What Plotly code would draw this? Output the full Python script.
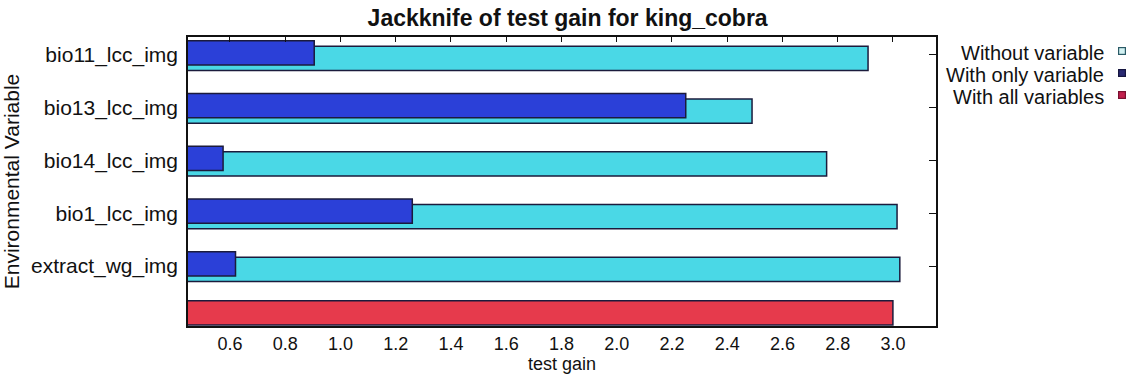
import plotly.graph_objects as go

# ---- data ----
categories = ["bio11_lcc_img", "bio13_lcc_img", "bio14_lcc_img", "bio1_lcc_img", "extract_wg_img"]
without_variable = [2.91, 2.49, 2.76, 3.015, 3.025]
with_only_variable = [0.905, 2.25, 0.575, 1.26, 0.62]
with_all_variables = [3.00]
x_ticks = [0.6, 0.8, 1.0, 1.2, 1.4, 1.6, 1.8, 2.0, 2.2, 2.4, 2.6, 2.8, 3.0]
legend_labels = ["Without variable", "With only variable", "With all variables"]

# ---- layout constants ----
W, H = 1130, 380
L, R, T, B = 188, 936, 37, 326
FONT = "Liberation Sans, Arial, Helvetica, sans-serif"

CYAN = "#4ad8e6"
BLUE = "#2b40d8"
RED = "#e63a4c"
EDGE = "#1b1b3c"

ypos = list(range(len(categories), 0, -1))  # 5..1 top to bottom, 0 = all variables
XR = [0.448, 3.156]
YR = [-0.137, 5.34]
BW = 0.46

fig = go.Figure()
fig.add_trace(go.Bar(
    x=without_variable, y=ypos, orientation="h", name=legend_labels[0],
    width=BW, offset=-0.065 - BW / 2,
    marker=dict(color=CYAN, line=dict(color=EDGE, width=1.5)),
))
fig.add_trace(go.Bar(
    x=with_only_variable, y=ypos, orientation="h", name=legend_labels[1],
    width=BW, offset=0.04 - BW / 2,
    marker=dict(color=BLUE, line=dict(color=EDGE, width=1.5)),
))
fig.add_trace(go.Bar(
    x=with_all_variables, y=[0], orientation="h", name=legend_labels[2],
    width=BW, offset=0.11 - BW / 2,
    marker=dict(color=RED, line=dict(color=EDGE, width=1.5)),
))
# invisible trace so the mirrored tick axes (top / right) are drawn
fig.add_trace(go.Scatter(
    x=with_all_variables, y=[0], xaxis="x2", yaxis="y2", mode="markers",
    marker=dict(opacity=0), hoverinfo="skip", showlegend=False,
))

fig.update_layout(
    width=W, height=H,
    margin=dict(l=L, r=W - R, t=T, b=H - B, autoexpand=False),
    paper_bgcolor="white", plot_bgcolor="white",
    barmode="overlay", showlegend=False,
    font=dict(family=FONT, color="#111111"),
    title=dict(text="<b>Jackknife of test gain for king_cobra</b>",
               x=(L + R) / 2 / W + 0.005, xanchor="center",
               y=1 - 18 / H, yanchor="middle",
               font=dict(size=23, family=FONT, color="#111111")),
    xaxis=dict(
        range=XR, tickvals=x_ticks, ticktext=[f"{v:.1f}" for v in x_ticks],
        ticks="", showgrid=False, zeroline=False,
        showline=True, linecolor="#111111", linewidth=1.5, mirror=True,
        tickfont=dict(size=18), ticklabelstandoff=1,
        title=dict(text="test gain", font=dict(size=18), standoff=0),
    ),
    xaxis2=dict(
        range=XR, overlaying="x", side="top", tickvals=x_ticks,
        ticks="inside", ticklen=5, tickwidth=1.2, tickcolor="#111111",
        showticklabels=False, showgrid=False, zeroline=False, showline=False,
    ),
    yaxis=dict(
        range=YR, tickvals=ypos, ticktext=categories,
        ticks="", showgrid=False, zeroline=False,
        showline=True, linecolor="#111111", linewidth=1.5, mirror=True,
        tickfont=dict(size=21), ticklabelstandoff=4,
        title=dict(text="Environmental Variable", font=dict(size=21), standoff=8),
    ),
    yaxis2=dict(
        range=YR, overlaying="y", side="right", anchor="x", tickvals=ypos,
        ticks="inside", ticklen=7, tickwidth=1.2, tickcolor="#111111",
        showticklabels=False, showgrid=False, zeroline=False, showline=False,
    ),
)

# legend drawn MaxEnt style: right-aligned text with the swatch on the right
def px_to_paper_x(px):
    return (px - L) / (R - L)

def px_to_paper_y(py):
    return (B - py) / (B - T)

legend_rows = [53, 75, 97]
swatch_fill = ["#d2f1f2", "#2a2a72", "#c2204e"]
swatch_edge = ["#2a5a66", "#161640", "#7a1030"]
for label, yy, fc, ec in zip(legend_labels, legend_rows, swatch_fill, swatch_edge):
    fig.add_annotation(
        x=px_to_paper_x(1106), y=px_to_paper_y(yy), xref="paper", yref="paper",
        text=label, showarrow=False, xanchor="right", yanchor="middle",
        font=dict(size=20, family=FONT, color="#111111"),
    )
    fig.add_annotation(
        x=px_to_paper_x(1122), y=px_to_paper_y(yy - 2), xref="paper", yref="paper",
        text=" ", showarrow=False, xanchor="center", yanchor="middle",
        width=6, height=6, borderpad=0, borderwidth=1.2,
        bgcolor=fc, bordercolor=ec, font=dict(size=4),
    )

fig.write_html("out.html")
